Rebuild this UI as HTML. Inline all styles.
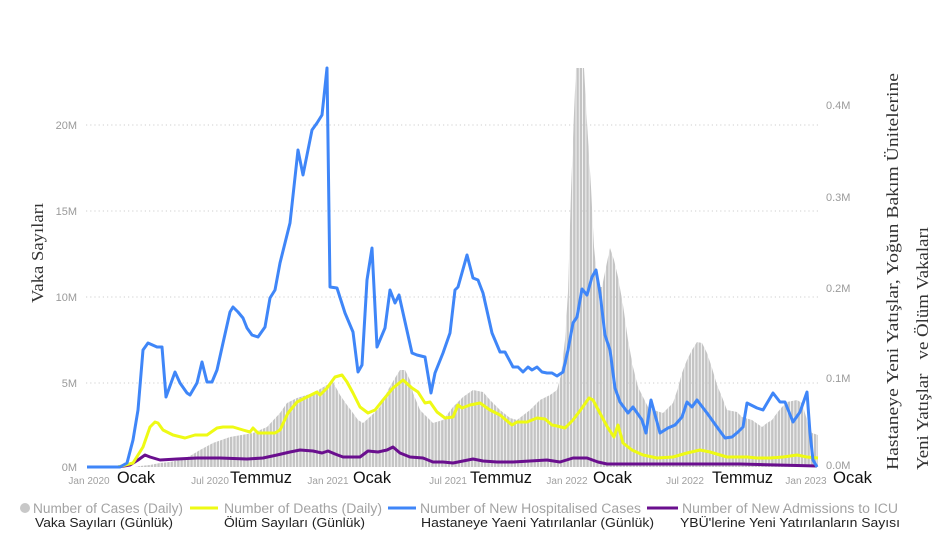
<!DOCTYPE html>
<html>
<head>
<meta charset="utf-8">
<style>
  html,body{margin:0;padding:0;background:#fff;}
  body{width:941px;height:542px;overflow:hidden;}
  svg{display:block;}
  .tick{font-family:"Liberation Sans",sans-serif;font-size:11px;fill:#9a9a9a;}
  .xt{font-family:"Liberation Sans",sans-serif;font-size:10px;fill:#a0a0a0;}
  .xb{font-family:"Liberation Sans",sans-serif;font-size:17px;fill:#111;}
  .lg{font-family:"Liberation Sans",sans-serif;font-size:13.5px;fill:#a3a3a3;}
  .lb{font-family:"Liberation Sans",sans-serif;font-size:13px;fill:#222;}
  .ser{font-family:"Liberation Serif",serif;font-size:17px;fill:#333;}
</style>
</head>
<body>
<svg width="941" height="542" viewBox="0 0 941 542" xmlns="http://www.w3.org/2000/svg">
  <defs>
    <pattern id="bars" patternUnits="userSpaceOnUse" x="88" y="0" width="3.3" height="10">
      <rect x="0" y="0" width="2.5" height="10" fill="#c4c4c4"/>
    </pattern>
  </defs>

  <!-- gridlines -->
  <g stroke="#cfcfcf" stroke-width="1" stroke-dasharray="1.2,3">
    <line x1="86" y1="125" x2="818" y2="125"/>
    <line x1="86" y1="211" x2="818" y2="211"/>
    <line x1="86" y1="297" x2="818" y2="297"/>
    <line x1="86" y1="383" x2="818" y2="383"/>
  </g>

  <!-- cases bars (envelope filled with bar pattern) -->
  <polygon fill="url(#bars)" points="135,467 140,466 150,465 160,463 170,462 180,460 190,456 200,450 213,443 230,437 253,433 267,427 280,413 287,403 297,398 313,393 327,385 333,382 340,395 347,405 353,413 358,420 363,423 370,417 380,407 388,390 395,378 400,370 405,370 410,380 413,393 420,410 427,417 433,423 443,420 453,407 463,397 473,390 483,392 490,400 500,410 510,418 517,420 530,410 540,400 550,395 557,390 561,375 565,340 568,292 571,192 574,113 576,68 584,68 587,122 591,187 594,247 598,287 602,287 606,267 610,248 614,260 618,277 623,305 628,340 633,367 638,387 643,397 648,407 653,410 663,413 668,408 673,403 678,388 682,373 687,360 692,350 697,342 702,343 707,353 712,368 717,385 722,397 727,410 737,412 742,417 752,420 762,427 767,423 772,420 777,413 782,407 787,402 797,400 802,403 807,420 812,433 818,435 818,467"/>

  <!-- purple: ICU admissions -->
  <polyline fill="none" stroke="#6a0f8e" stroke-width="3" stroke-linejoin="round" points="118,467 130,465 138,460 145,455 150,457 160,460 177,459 197,458 220,458 247,459 263,458 277,455 290,452 300,450 313,451 322,453 328,451 335,454 343,457 350,457 360,457 368,451 378,452 387,450 393,447 400,453 410,457 423,458 433,462 443,462 453,463 463,461 473,459 483,461 497,462 513,462 530,461 547,460 560,462 573,458 587,458 598,462 607,464 640,464 690,464 740,464 817,466"/>

  <!-- yellow: deaths -->
  <polyline fill="none" stroke="#eefa14" stroke-width="3" stroke-linejoin="round" points="118,467 133,463 143,447 150,427 155,422 158,423 163,430 173,435 185,438 195,435 207,435 217,428 223,427 233,427 243,430 250,432 253,428 258,433 267,433 275,433 280,430 288,413 297,402 307,397 317,392 320,395 327,388 335,377 342,375 347,382 353,393 360,407 368,413 375,410 383,400 393,388 403,380 412,388 418,392 425,403 430,402 437,412 445,418 453,417 458,405 462,408 470,405 480,403 490,410 500,415 512,425 517,422 527,422 537,418 545,419 552,425 557,426 565,428 573,420 582,408 589,398 593,400 602,417 608,428 614,437 618,425 623,443 632,450 643,455 657,458 673,457 687,453 700,450 710,452 727,457 747,457 757,458 770,458 783,457 797,455 807,457 818,458"/>

  <!-- blue: hospitalised -->
  <polyline fill="none" stroke="#3f86f8" stroke-width="3" stroke-linejoin="round" points="87,467 120,467 127,463 133,440 138,410 143,350 148,343 157,347 162,347 166,397 175,372 180,383 187,393 190,395 197,383 202,362 207,382 212,382 217,370 223,343 230,312 233,307 238,312 243,318 247,328 252,335 258,337 265,327 270,298 275,290 280,263 290,223 298,150 303,175 312,130 317,123 322,115 327,68 330,287 337,288 345,313 353,332 358,372 362,365 367,280 372,248 377,347 385,328 390,290 395,303 399,295 412,353 417,355 425,357 431,393 435,373 443,353 450,333 455,290 458,287 467,255 473,278 478,280 483,293 492,333 500,352 505,352 513,367 518,367 523,372 528,367 532,370 537,367 542,372 547,373 552,373 557,376 563,372 568,350 573,323 577,317 582,289 587,295 592,277 596,270 600,293 605,335 610,350 615,388 620,402 628,413 633,407 642,420 646,433 651,400 660,433 668,428 675,425 682,417 687,402 692,407 697,400 707,413 717,427 725,438 732,437 738,432 743,427 747,403 757,408 763,410 773,393 780,402 785,402 793,422 800,412 807,392 810,433 813,460 817,467"/>

  <!-- left tick labels -->
  <text class="tick" x="77" y="129" text-anchor="end">20M</text>
  <text class="tick" x="77" y="215" text-anchor="end">15M</text>
  <text class="tick" x="77" y="301" text-anchor="end">10M</text>
  <text class="tick" x="77" y="387" text-anchor="end">5M</text>
  <text class="tick" x="77" y="471" text-anchor="end">0M</text>

  <!-- right tick labels -->
  <text class="tick" x="826" y="109">0.4M</text>
  <text class="tick" x="826" y="201">0.3M</text>
  <text class="tick" x="826" y="292">0.2M</text>
  <text class="tick" x="826" y="382">0.1M</text>
  <text class="tick" x="826" y="469">0.0M</text>

  <!-- x tick labels -->
  <text class="xt" x="89" y="484" text-anchor="middle">Jan 2020</text>
  <text class="xt" x="210" y="484" text-anchor="middle">Jul 2020</text>
  <text class="xt" x="328" y="484" text-anchor="middle">Jan 2021</text>
  <text class="xt" x="448" y="484" text-anchor="middle">Jul 2021</text>
  <text class="xt" x="567" y="484" text-anchor="middle">Jan 2022</text>
  <text class="xt" x="685" y="484" text-anchor="middle">Jul 2022</text>
  <text class="xt" x="806" y="484" text-anchor="middle">Jan 2023</text>

  <text class="xb" x="117" y="483" textLength="38" lengthAdjust="spacingAndGlyphs">Ocak</text>
  <text class="xb" x="230" y="483" textLength="62" lengthAdjust="spacingAndGlyphs">Temmuz</text>
  <text class="xb" x="353" y="483" textLength="38" lengthAdjust="spacingAndGlyphs">Ocak</text>
  <text class="xb" x="470" y="483" textLength="62" lengthAdjust="spacingAndGlyphs">Temmuz</text>
  <text class="xb" x="593" y="483" textLength="39" lengthAdjust="spacingAndGlyphs">Ocak</text>
  <text class="xb" x="712" y="483" textLength="61" lengthAdjust="spacingAndGlyphs">Temmuz</text>
  <text class="xb" x="833" y="483" textLength="39" lengthAdjust="spacingAndGlyphs">Ocak</text>

  <!-- axis titles -->
  <text class="ser" transform="translate(43,303) rotate(-90)" textLength="100" lengthAdjust="spacingAndGlyphs">Vaka Sayıları</text>
  <text class="ser" transform="translate(898,470) rotate(-90)" textLength="397" lengthAdjust="spacingAndGlyphs">Hastaneye Yeni Yatışlar, Yoğun Bakım Ünitelerine</text>
  <text class="ser" transform="translate(928,470) rotate(-90)" textLength="243" lengthAdjust="spacingAndGlyphs" xml:space="preserve">Yeni Yatışlar   ve Ölüm Vakaları</text>

  <!-- legend -->
  <circle cx="25" cy="508" r="5" fill="#c8c8c8"/>
  <text class="lg" x="33" y="513" textLength="150" lengthAdjust="spacingAndGlyphs">Number of Cases (Daily)</text>
  <line x1="190" y1="508" x2="218" y2="508" stroke="#eefa14" stroke-width="3"/>
  <text class="lg" x="224" y="513" textLength="158" lengthAdjust="spacingAndGlyphs">Number of Deaths (Daily)</text>
  <line x1="388" y1="508" x2="416" y2="508" stroke="#3f86f8" stroke-width="3"/>
  <text class="lg" x="420" y="513" textLength="221" lengthAdjust="spacingAndGlyphs">Number of New Hospitalised Cases</text>
  <line x1="647" y1="508" x2="678" y2="508" stroke="#6a0f8e" stroke-width="3"/>
  <text class="lg" x="682" y="513" textLength="216" lengthAdjust="spacingAndGlyphs">Number of New Admissions to ICU</text>

  <text class="lb" x="35" y="527" textLength="138" lengthAdjust="spacingAndGlyphs">Vaka Sayıları (Günlük)</text>
  <text class="lb" x="224" y="527" textLength="141" lengthAdjust="spacingAndGlyphs">Ölüm Sayıları (Günlük)</text>
  <text class="lb" x="421" y="527" textLength="233" lengthAdjust="spacingAndGlyphs">Hastaneye Yaeni Yatırılanlar (Günlük)</text>
  <text class="lb" x="680" y="527" textLength="220" lengthAdjust="spacingAndGlyphs">YBÜ'lerine Yeni Yatırılanların Sayısı</text>
</svg>
</body>
</html>
